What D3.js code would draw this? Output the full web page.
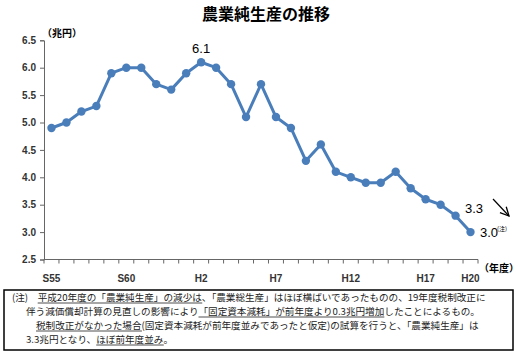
<!DOCTYPE html>
<html>
<head>
<meta charset="utf-8">
<script src="https://cdn.jsdelivr.net/npm/d3@7"></script>
<style>
  body { margin: 0; background: #fff; }
  svg { display: block; }
  .jp { font-family: "Noto Sans CJK JP", sans-serif; }
  .num { font-family: "Liberation Sans", Arial, sans-serif; }
</style>
</head>
<body>
<svg id="chart" width="520" height="353"></svg>
<script>
// fiscal years S55 (1980) .. H20 (2008)
const years = d3.range(1980, 2009)
const values = [4.9, 5.0, 5.2, 5.3, 5.9, 6.0, 6.0, 5.7, 5.6, 5.9,
  6.1, 6.0, 5.7, 5.1, 5.7, 5.1, 4.9, 4.3, 4.6, 4.1,
  4.0, 3.9, 3.9, 4.1, 3.8, 3.6, 3.5, 3.3, 3.0]
const yTicks = [2.5, 3.0, 3.5, 4.0, 4.5, 5.0, 5.5, 6.0, 6.5]
const xLabels = [[1980, 'S55'], [1985, 'S60'], [1990, 'H2'], [1995, 'H7'],
  [2000, 'H12'], [2005, 'H17'], [2008, 'H20']]

const noteLines = [
  [['(注)　', false], ['平成20年度の「農業純生産」の減少は', true], ['、「農業総生産」はほぼ横ばいであったものの、19年度税制改正に', false]],
  [['伴う減価償却計算の見直しの影響により', false], ['「固定資本減耗」が前年度より0.3兆円増加', true], ['したことによるもの。', false]],
  [['税制改正がなかった場合', true], ['(固定資本減耗が前年度並みであったと仮定)の試算を行うと、「農業純生産」は', false]],
  [['3.3兆円となり、', false], ['ほぼ前年度並み', true], ['。', false]]
]

const blue = '#4a7ebb'
const svg = d3.select('#chart')

const x = d3.scaleBand().domain(years).range([44, 478])
const y = d3.scaleLinear().domain([2.5, 6.5]).range([259.5, 40.3])

svg.append('text')
  .attr('class', 'jp')
  .attr('x', 266).attr('y', 20)
  .attr('text-anchor', 'middle')
  .attr('font-size', 16).attr('font-weight', 'bold')
  .text('農業純生産の推移')

// y axis
const yAxis = svg.append('g')
  .attr('transform', 'translate(44,0)')
  .call(d3.axisLeft(y).tickValues(yTicks).tickFormat(d3.format('.1f')).tickSize(4).tickPadding(4))
yAxis.select('.domain').attr('stroke', '#666')
yAxis.selectAll('.tick line').attr('stroke', '#666')
yAxis.selectAll('text').attr('class', 'num').attr('font-size', 10).attr('font-weight', 'bold').attr('fill', '#333')

svg.append('text')
  .attr('class', 'jp')
  .attr('x', 42).attr('y', 37)
  .attr('font-size', 10).attr('font-weight', 'bold')
  .text('（兆円）')

// x axis
const gx = svg.append('g').attr('transform', `translate(0,${y(2.5)})`)
gx.append('line')
  .attr('x1', x.range()[0]).attr('x2', x.range()[1])
  .attr('stroke', '#666')
gx.selectAll('.tk')
  .data(years.map(d => x(d)).concat([x.range()[1]]))
  .join('line')
  .attr('x1', d => d).attr('x2', d => d)
  .attr('y1', 0).attr('y2', 4)
  .attr('stroke', '#666')
gx.selectAll('.lbl')
  .data(xLabels)
  .join('text')
  .attr('class', 'num')
  .attr('x', d => x(d[0]) + x.bandwidth() / 2)
  .attr('y', 22)
  .attr('text-anchor', 'middle')
  .attr('font-size', 10).attr('font-weight', 'bold').attr('fill', '#333')
  .text(d => d[1])

svg.append('text')
  .attr('class', 'jp')
  .attr('x', 479).attr('y', 272)
  .attr('font-size', 10).attr('font-weight', 'bold')
  .text('（年度）')

// line + markers
const cx = d => x(d) + x.bandwidth() / 2
const line = d3.line().x((d, i) => cx(years[i])).y(d => y(d))
svg.append('path')
  .datum(values)
  .attr('d', line)
  .attr('fill', 'none')
  .attr('stroke', blue)
  .attr('stroke-width', 3)
  .attr('stroke-linejoin', 'round')
svg.selectAll('.pt')
  .data(values)
  .join('circle')
  .attr('cx', (d, i) => cx(years[i]))
  .attr('cy', d => y(d))
  .attr('r', 4.2)
  .attr('fill', blue)

// annotations
const iMax = values.indexOf(d3.max(values))
svg.append('text').attr('class', 'num')
  .attr('x', cx(years[iMax])).attr('y', y(values[iMax]) - 9)
  .attr('text-anchor', 'middle').attr('font-size', 13)
  .text(d3.format('.1f')(values[iMax]))

const last = values[values.length - 1]
svg.append('text').attr('class', 'num')
  .attr('x', 465).attr('y', 213).attr('font-size', 13)
  .text('3.3')
svg.append('text').attr('class', 'num')
  .attr('x', 480).attr('y', y(last) + 5).attr('font-size', 13)
  .text(d3.format('.1f')(last))
svg.append('text').attr('class', 'jp')
  .attr('x', 497).attr('y', y(last) - 1).attr('font-size', 6)
  .text('(注)')

svg.append('defs').append('marker')
  .attr('id', 'arr').attr('viewBox', '0 0 10 10')
  .attr('refX', 9).attr('refY', 5)
  .attr('markerWidth', 9).attr('markerHeight', 9)
  .attr('orient', 'auto')
  .append('path').attr('d', 'M1,1 L9,5 L1,9')
  .attr('fill', 'none').attr('stroke', '#000').attr('stroke-width', 1.2)
svg.append('line')
  .attr('x1', 493).attr('y1', 199).attr('x2', 509).attr('y2', 216)
  .attr('stroke', '#000').attr('stroke-width', 1.2)
  .attr('marker-end', 'url(#arr)')

// note box
svg.append('rect')
  .attr('x', 4).attr('y', 290).attr('width', 509).attr('height', 60)
  .attr('fill', 'none').attr('stroke', '#000').attr('stroke-width', 1.5)

const lineX = [12, 26, 36, 26]
const lineY = [301, 315, 329, 343]
noteLines.forEach((parts, li) => {
  const t = svg.append('text')
    .attr('class', 'jp')
    .attr('x', lineX[li]).attr('y', lineY[li])
    .attr('font-size', 9.6).attr('fill', '#222')
  const spans = parts.map(p => t.append('tspan').text(p[0]))
  parts.forEach((p, k) => {
    if (!p[1]) return
    const bb = spans[k].node().getBBox()
    svg.append('line')
      .attr('x1', bb.x).attr('x2', bb.x + bb.width)
      .attr('y1', lineY[li] + 2).attr('y2', lineY[li] + 2)
      .attr('stroke', '#222').attr('stroke-width', 0.8)
  })
})
</script>
</body>
</html>
